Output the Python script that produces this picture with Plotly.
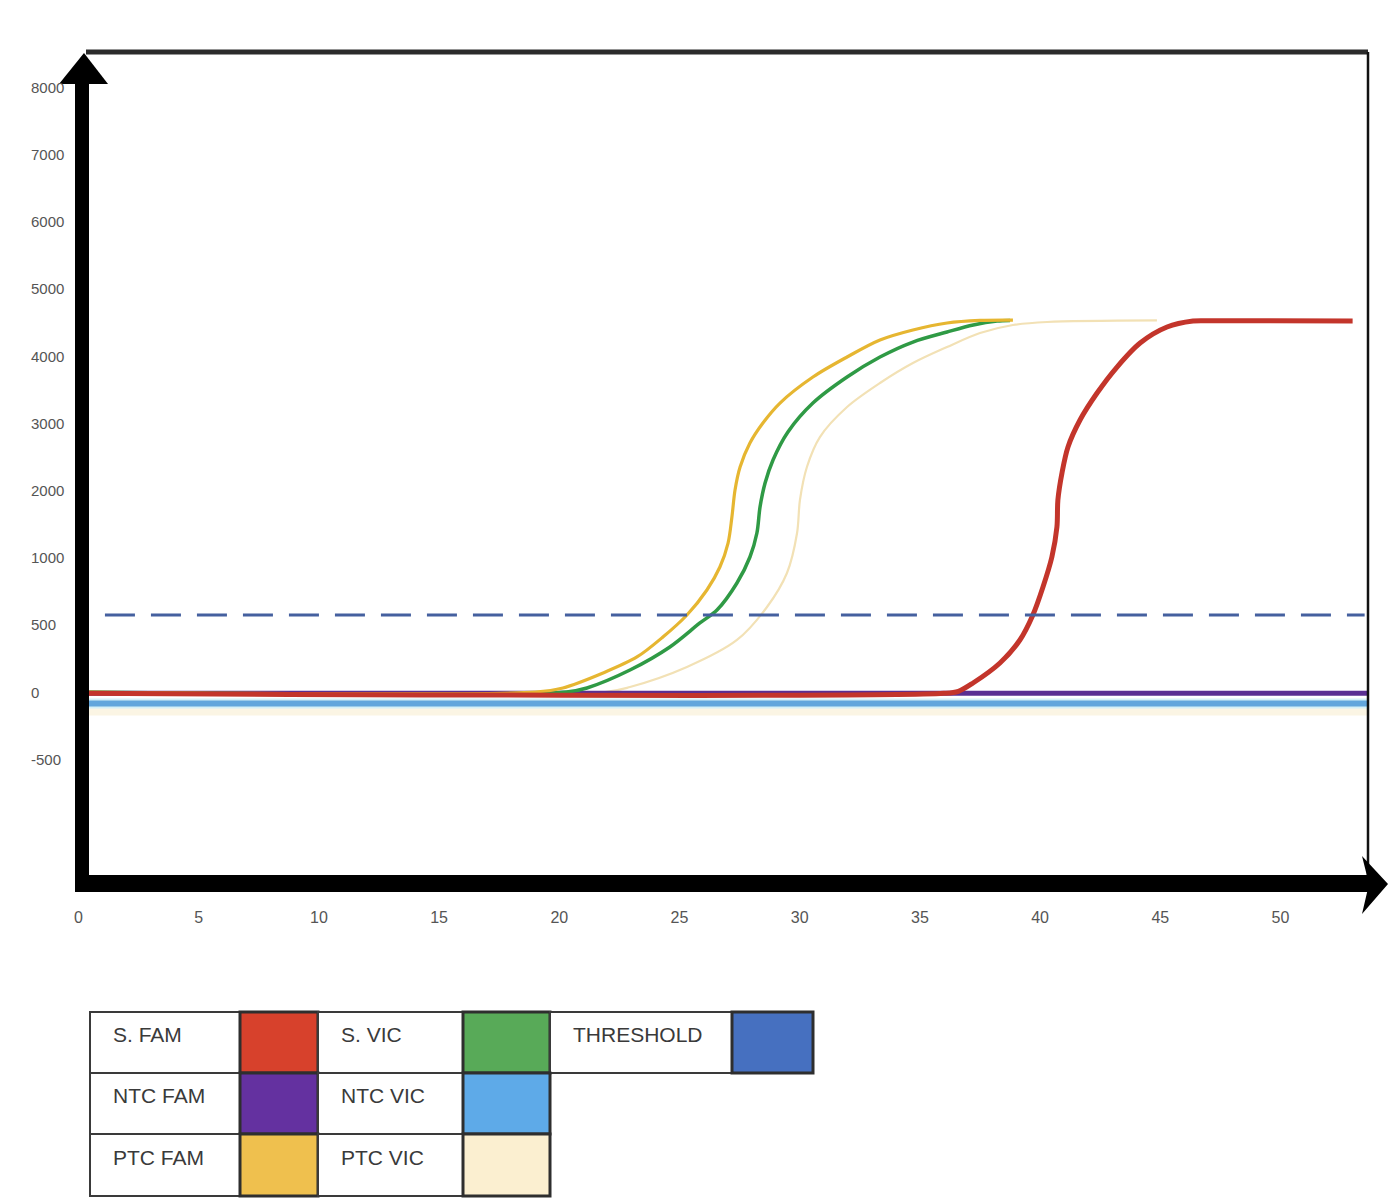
import plotly.graph_objects as go

# ---------------- data ----------------
# y values are in evenly spaced axis units (one label step = 1000 units)
y_tick_pos = [-1000, 0, 1000, 2000, 3000, 4000, 5000, 6000, 7000, 8000, 9000]
y_tick_text = ["-500", "0", "500", "1000", "2000", "3000", "4000", "5000", "6000", "7000", "8000"]
x_tick_vals = [0, 5, 10, 15, 20, 25, 30, 35, 40, 45, 50]

s_fam_cycles = [0, 36.0, 36.6, 37.21, 38.33, 39.16, 39.70, 40.12, 40.49, 40.70, 40.74, 40.91, 41.16,
                41.66, 42.37, 43.20, 44.16, 45.28, 46.36, 47.0, 53.0]
s_fam_values = [-20, -20, 10, 134, 432, 774, 1146, 1562, 2009, 2455, 2857, 3259, 3646,
                4047, 4449, 4836, 5193, 5431, 5520, 5525, 5520]

ptc_fam_cycles = [0, 19.0, 20.15, 21.82, 23.23, 24.31, 25.31, 26.14, 26.68, 27.02, 27.18, 27.31, 27.52,
                  27.93, 28.47, 29.18, 30.55, 31.97, 33.34, 34.71, 36.13, 37.50, 38.87]
ptc_fam_values = [0, 0, 60, 283, 521, 818, 1146, 1518, 1860, 2217, 2604, 3006, 3348,
                  3705, 4003, 4300, 4687, 4985, 5238, 5387, 5491, 5530, 5535]

s_vic_cycles = [0, 20.3, 21.15, 22.94, 24.60, 25.85, 26.56, 27.39, 27.93, 28.22, 28.35, 28.56, 28.89,
                29.51, 30.55, 31.97, 33.34, 34.71, 36.13, 37.22, 38.21, 38.75]
s_vic_values = [0, 0, 60, 327, 670, 1027, 1220, 1622, 2009, 2366, 2753, 3110, 3452,
                3869, 4300, 4687, 4985, 5208, 5357, 5461, 5520, 5530]

ptc_vic_cycles = [0, 21.9, 22.94, 25.31, 27.39, 28.64, 29.47, 29.89, 30.01, 30.30, 30.84, 31.97,
                  33.34, 34.71, 36.13, 37.50, 38.87, 40.29, 44.86]
ptc_vic_values = [0, 0, 74, 372, 774, 1265, 1771, 2366, 2857, 3348, 3794, 4241,
                  4598, 4895, 5134, 5342, 5461, 5506, 5530]

ntc_cycles = [0, 53.7]
ntc_fam_values = [-20, -20]
ntc_vic_values = [-170, -170]

threshold_cycles = [1.1, 53.5]
threshold_values = [1146, 1146]

legend_rows = [
    [("S. FAM", "#D7412C"), ("S. VIC", "#58AA58"), ("THRESHOLD", "#4670C0")],
    [("NTC FAM", "#6431A0"), ("NTC VIC", "#5EAAE8")],
    [("PTC FAM", "#EFC04E"), ("PTC VIC", "#FBEFD0")],
]

# ---------------- layout geometry (pixels) ----------------
W, H = 1395, 1200
PL, PR, PT, PB = 76, 1368, 52, 883
X0_PX, X_SCALE = 78.5, 24.04       # pixel of cycle 0, pixels per cycle
Y0_PX, Y_SCALE = 692, 67.2 / 1000  # pixel of value 0, pixels per unit


def px(x):
    return (x - PL) / (PR - PL)


def py(y):
    return (PB - y) / (PB - PT)


FONT = "Liberation Sans Narrow, Arial Narrow, Liberation Sans, sans-serif"

fig = go.Figure()
SPL = dict(shape="spline", smoothing=0.9)

fig.add_trace(go.Scatter(x=ntc_cycles, y=[v - 90 for v in ntc_vic_values], mode="lines",
                         line=dict(color="#FBF5E4", width=12), name="PTC VIC base", hoverinfo="skip"))
fig.add_trace(go.Scatter(x=ptc_vic_cycles, y=ptc_vic_values, mode="lines",
                         line=dict(color="#F2E1B5", width=2.2, **SPL), name="PTC VIC"))
fig.add_trace(go.Scatter(x=ntc_cycles, y=ntc_vic_values, mode="lines",
                         line=dict(color="#D4F0F7", width=10), name="NTC VIC halo", hoverinfo="skip"))
fig.add_trace(go.Scatter(x=ntc_cycles, y=ntc_vic_values, mode="lines",
                         line=dict(color="#62A6DC", width=6), name="NTC VIC"))
fig.add_trace(go.Scatter(x=ntc_cycles, y=ntc_fam_values, mode="lines",
                         line=dict(color="#5A2F92", width=5), name="NTC FAM"))
fig.add_trace(go.Scatter(x=s_vic_cycles, y=s_vic_values, mode="lines",
                         line=dict(color="#2F9A45", width=3.5, **SPL), name="S. VIC"))
fig.add_trace(go.Scatter(x=ptc_fam_cycles, y=ptc_fam_values, mode="lines",
                         line=dict(color="#E6B631", width=3.2, **SPL), name="PTC FAM"))
fig.add_trace(go.Scatter(x=s_fam_cycles, y=s_fam_values, mode="lines",
                         line=dict(color="#C3352B", width=5, **SPL), name="S. FAM"))
fig.add_trace(go.Scatter(x=threshold_cycles, y=threshold_values, mode="lines",
                         line=dict(color="#45609F", width=3.2, dash="30px,16px"), name="THRESHOLD"))

x_min = (PL - X0_PX) / X_SCALE
x_max = (PR - X0_PX) / X_SCALE
y_max = (Y0_PX - PT) / Y_SCALE
y_min = (Y0_PX - PB) / Y_SCALE

fig.update_xaxes(range=[x_min, x_max], tickvals=x_tick_vals, showgrid=False, zeroline=False,
                 showline=False, ticks="outside", ticklen=20, tickcolor="rgba(0,0,0,0)",
                 tickfont=dict(family=FONT, size=16, color="#555555"))
fig.update_yaxes(range=[y_min, y_max], tickvals=y_tick_pos, showticklabels=False, showgrid=False,
                 zeroline=False, showline=False, ticks="")

annotations = []
for pos, txt in zip(y_tick_pos, y_tick_text):
    annotations.append(dict(x=px(29), xref="paper", y=pos, yref="y", text=txt, showarrow=False,
                            xanchor="left", yanchor="middle",
                            font=dict(family=FONT, size=15, color="#555555")))

shapes = []
# frame top and right
shapes.append(dict(type="line", xref="paper", yref="paper", x0=px(86), x1=px(1368), y0=py(52), y1=py(52),
                   line=dict(color="#2B2B2B", width=5), layer="above"))
shapes.append(dict(type="line", xref="paper", yref="paper", x0=px(1368), x1=px(1368), y0=py(52), y1=py(883),
                   line=dict(color="#111111", width=2.5), layer="above"))
# thick y axis with arrow
shapes.append(dict(type="rect", xref="paper", yref="paper", x0=px(75), x1=px(89), y0=py(892), y1=py(80),
                   fillcolor="black", line=dict(width=0), layer="above"))
shapes.append(dict(type="path", xref="paper", yref="paper",
                   path=f"M {px(59)},{py(84)} L {px(84)},{py(53)} L {px(108)},{py(84)} Z",
                   fillcolor="black", line=dict(width=0), layer="above"))
# thick x axis with arrow
shapes.append(dict(type="rect", xref="paper", yref="paper", x0=px(77), x1=px(1370), y0=py(892), y1=py(875),
                   fillcolor="black", line=dict(width=0), layer="above"))
shapes.append(dict(type="path", xref="paper", yref="paper",
                   path=(f"M {px(1362)},{py(856)} L {px(1388)},{py(884)} L {px(1362)},{py(914)} "
                         f"L {px(1369)},{py(884)} Z"),
                   fillcolor="black", line=dict(width=0), layer="above"))

# legend table
col_edges = [90, 240, 318, 463, 550, 732, 813]
row_edges = [1012, 1073, 1134, 1196]
for r, row in enumerate(legend_rows):
    y0, y1 = row_edges[r], row_edges[r + 1]
    for c, (label, color) in enumerate(row):
        xa, xb, xc = col_edges[2 * c], col_edges[2 * c + 1], col_edges[2 * c + 2]
        shapes.append(dict(type="rect", xref="paper", yref="paper", x0=px(xa), x1=px(xb), y0=py(y1), y1=py(y0),
                           fillcolor="white", line=dict(color="#3A3A3A", width=2)))
        shapes.append(dict(type="rect", xref="paper", yref="paper", x0=px(xb), x1=px(xc), y0=py(y1), y1=py(y0),
                           fillcolor=color, line=dict(color="#2E2E2E", width=3)))
        annotations.append(dict(x=px(xa + 21), xref="paper", y=py((y0 + y1) / 2 - 8), yref="paper",
                                text=label, showarrow=False, xanchor="left", yanchor="middle",
                                font=dict(family=FONT, size=21, color="#3A3A3A")))

fig.update_layout(width=W, height=H, margin=dict(l=PL, r=W - PR, t=PT, b=H - PB),
                  plot_bgcolor="white", paper_bgcolor="white", showlegend=False,
                  shapes=shapes, annotations=annotations)

fig.write_html("out.html")
